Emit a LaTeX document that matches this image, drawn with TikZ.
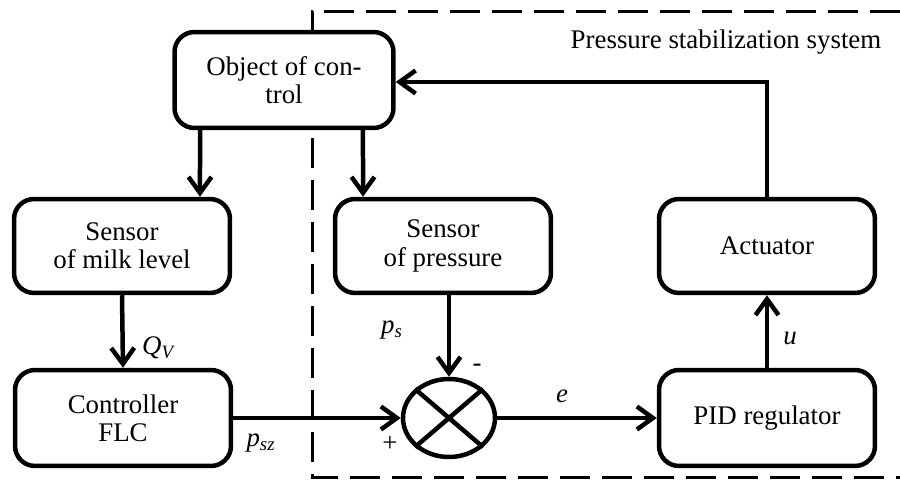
\documentclass[tikz,border=0pt]{standalone}
\usepackage{fontspec}
\setmainfont{Liberation Serif}
\usetikzlibrary{arrows.meta,shapes.geometric}

\tikzset{
  block/.style={draw,fill=white,rounded corners=0.4cm,align=center,
    minimum width=4.32cm,minimum height=1.88cm,line width=0.09cm},
  flow/.style={draw,line width=0.09cm,-{Straight Barb[length=0.32cm,width=0.46cm]}},
  txt/.style={font=\fontsize{15.3}{16}\selectfont}
}

\begin{document}
\begin{tikzpicture}[x=0.02cm,y=-0.02cm,every node/.style={txt}]

          \useasboundingbox (0,0) rectangle (900,482);

          \draw[line width=0.06cm,dash pattern=on 0.6cm off 0.24cm]
            (900,12) -- (312,12) -- (312,478) -- (900,478);

          \begin{scope}[every node/.style={block,txt}]
            \node (obj)   at (284,80)  [minimum width=4.38cm,minimum height=1.92cm] {Object of con-\\trol};
            \node (smilk) at (122,246) {Sensor\\of milk level};
            \node (spres) at (443,246) {Sensor\\of pressure};
            \node (act)   at (767,246) {Actuator};
            \node (ctrl)  at (123,418) [minimum height=1.92cm] {Controller\\FLC};
            \node (pid)   at (767,418) [minimum height=1.92cm] {PID regulator};
          \end{scope}

          \node (sum) at (449,418) [draw,ellipse,fill=white,line width=0.09cm,inner sep=0pt,
            minimum width=1.84cm,minimum height=1.56cm] {};
          \draw[line width=0.09cm] (sum.north west) -- (sum.south east);
          \draw[line width=0.09cm] (sum.north east) -- (sum.south west);

          \begin{scope}[every edge/.style={flow}]
            \path ([xshift=-1.68cm]obj.south) edge ([xshift=1.56cm]smilk.north);
            \path ([xshift=1.58cm]obj.south)  edge ([xshift=-1.6cm]spres.north);
            \path (smilk.south) edge (ctrl.north);
            \path (spres.south -| sum.north) edge (sum.north);
            \path (ctrl.east) edge (sum.west);
            \path (sum.east) edge (pid.west);
            \path (pid.north) edge (act.south);
          \end{scope}
          \draw[flow] (act.north) |- ([yshift=-0.04cm]obj.east);

          \node (qv)  at (159,348) {\textit{Q}\textsubscript{\textit{V}}};
          \node (ps)  at (392,330) {\textit{p}\textsubscript{\textit{s}}};
          \node (psz) at (261,443) {\textit{p}\textsubscript{\textit{sz}}};
          \node (minus) at (477,368) {-};
          \node (plus)  at (390,444) {+};
          \node (e)   at (562,396) {\textit{e}};
          \node (u)   at (790,338) {\textit{u}};
          \node (title) at (726,42) {Pressure stabilization system};

        \end{tikzpicture}
\end{document}
